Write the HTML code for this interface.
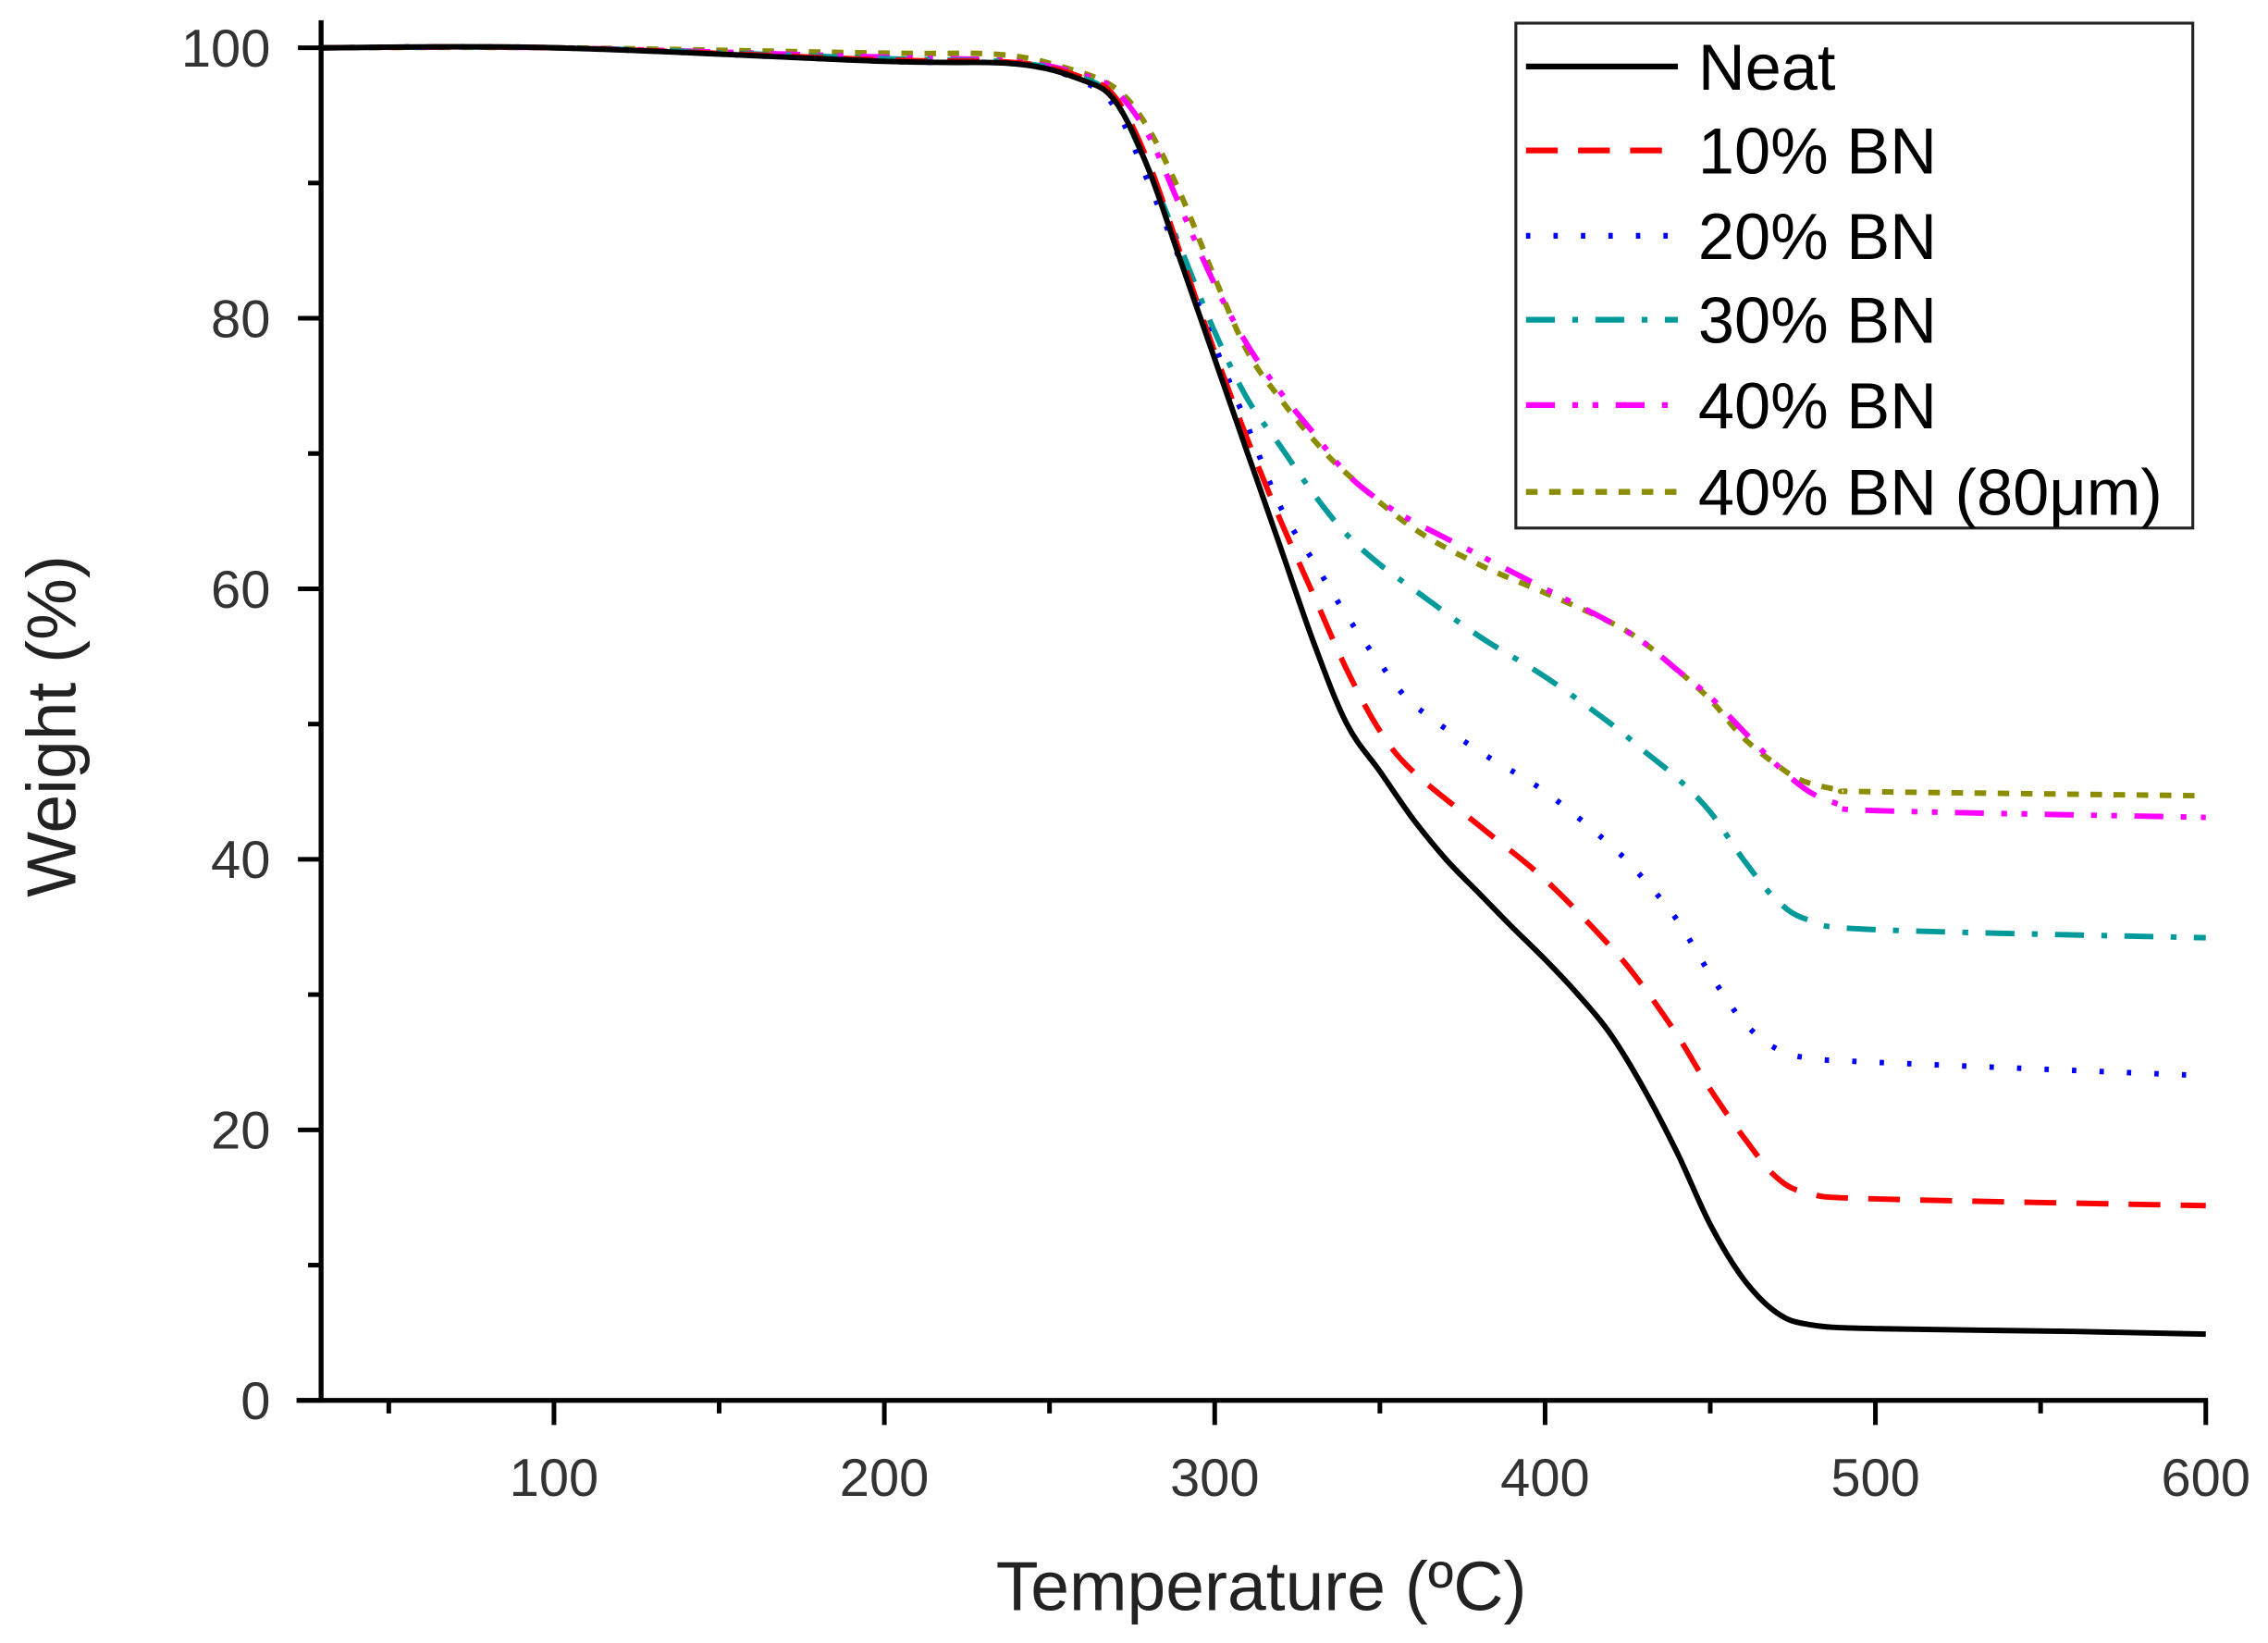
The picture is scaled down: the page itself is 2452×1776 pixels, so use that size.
<!DOCTYPE html>
<html><head><meta charset="utf-8"><style>
html,body{margin:0;padding:0;background:#fff;}
svg{display:block;}
text{font-family:"Liberation Sans",Arial,sans-serif;}
</style></head><body>
<svg id="s" width="2452" height="1776" viewBox="0 0 1568 1135.7" preserveAspectRatio="none" xmlns="http://www.w3.org/2000/svg">
<g id="curves" fill="none" stroke-width="3.8" stroke-linejoin="round"></g>
<g stroke="#000" stroke-width="3.4" fill="none">
<line x1="222" y1="14" x2="222" y2="969.5"/>
<line x1="205" y1="968" x2="1526.5" y2="968"/>
</g>
<g id="ticks" stroke="#000" stroke-width="3.2"></g>
<g id="labels" fill="#333" font-size="37"></g>
<text x="0" y="0" font-size="48" fill="#222" text-anchor="middle" transform="translate(52,502) rotate(-90)">Weight (%)</text>
<text x="872" y="1113" font-size="48" fill="#222" text-anchor="middle">Temperature (ºC)</text>
<rect x="1048" y="16" width="468" height="349" fill="#fff" stroke="#222" stroke-width="2"/>
<g id="legend"></g>
</svg>
<script>
var NS="http://www.w3.org/2000/svg";
function X(t){return 383+(t-100)*2.284;}
function Y(w){return 968-w*9.35;}
function el(p,n,a,txt){var e=document.createElementNS(NS,n);for(var k in a)e.setAttribute(k,a[k]);if(txt!==undefined)e.textContent=txt;document.getElementById(p).appendChild(e);return e;}
for(var w=0;w<=100;w+=10){var maj=w%20==0;el("ticks","line",{x1:222,x2:maj?206:213,y1:Y(w),y2:Y(w)});if(maj)el("labels","text",{x:187,y:Y(w)+13,"text-anchor":"end"},String(w));}
for(var t=50;t<=600;t+=50){var maj=t%100==0;el("ticks","line",{x1:X(t),x2:X(t),y1:968,y2:maj?985:977});if(maj)el("labels","text",{x:X(t),y:1034,"text-anchor":"middle"},String(t));}
var S=[
{c:"#000",d:"none",p:[[30,100],[100,100],[200,99],[240,98.8],[260,97.6],[270,96],[280,91],[290,84],[300,77],[310,70],[320,63],[330,56],[340,50],[350,46.5],[360,43],[370,40],[380,37.5],[390,35],[400,32.6],[410,30],[420,27],[430,23],[440,18.3],[450,13],[460,9],[470,6.5],[480,5.6],[500,5.3],[560,5.1],[600,4.9]]},
{c:"#f00",d:"22 14",p:[[30,100],[100,100],[200,99.1],[240,98.9],[260,97.8],[270,96.3],[280,91.5],[290,84.5],[300,77.5],[310,71],[320,65],[330,59.5],[340,54],[350,49.5],[360,46.5],[380,42.5],[400,38.5],[420,33.5],[430,30.5],[440,27],[450,23],[460,19.5],[470,16.5],[480,15.3],[500,14.9],[600,14.4]]},
{c:"#00f",d:"3 16",p:[[30,100],[100,100],[200,99],[240,98.8],[260,97.5],[270,95.5],[280,90],[290,84],[300,78],[310,72],[320,66],[330,62],[340,58],[350,54.5],[360,51.5],[380,48],[400,45],[420,41],[430,38.5],[440,35.5],[450,31.5],[460,28],[470,26],[480,25.3],[500,25],[600,24]]},
{c:"#009a9a",d:"20 12 4 12",p:[[30,100],[100,100],[200,99.2],[240,98.9],[260,97.8],[270,96],[280,91],[290,85],[300,79],[310,74],[320,70.5],[330,67],[340,64],[350,61.8],[360,60],[380,56.5],[400,53.5],[420,50],[430,48],[440,46],[450,43.5],[460,40],[470,37],[480,35.5],[500,34.8],[600,34.2]]},
{c:"#f0f",d:"20 12 4 10 4 12",p:[[30,100],[100,100],[200,99.3],[240,99],[260,98],[270,96.8],[280,93.5],[290,88],[300,82.5],[310,78],[320,74.5],[330,71.5],[340,68.5],[350,66.5],[360,65],[380,62.5],[400,60],[420,57.5],[430,56],[440,54],[450,52],[460,49.5],[470,47],[480,45],[490,44],[500,43.6],[600,43.1]]},
{c:"#8c8c00",d:"8 8",p:[[30,100],[100,100],[200,99.6],[235,99.5],[255,98.5],[270,97],[280,94],[290,89],[300,83],[310,77.5],[320,74],[330,71],[340,68.5],[360,64.5],[380,61.8],[400,59.7],[420,57.5],[430,56],[440,54],[450,51.8],[460,49],[470,47],[478,45.8],[490,45.1],[500,45],[600,44.7]]}
];
function path(p){var q=p.map(function(a){return [X(a[0]),Y(a[1])];});var d="M"+q[0][0]+","+q[0][1];
for(var i=0;i<q.length-1;i++){var p0=q[i-1]||q[i],p1=q[i],p2=q[i+1],p3=q[i+2]||q[i+1];
var c1=[p1[0]+(p2[0]-p0[0])/6,p1[1]+(p2[1]-p0[1])/6],c2=[p2[0]-(p3[0]-p1[0])/6,p2[1]-(p3[1]-p1[1])/6];
d+=" C"+c1[0].toFixed(1)+","+c1[1].toFixed(1)+" "+c2[0].toFixed(1)+","+c2[1].toFixed(1)+" "+p2[0].toFixed(1)+","+p2[1].toFixed(1);}return d;}
for(var i=S.length-1;i>=0;i--){var s=S[i];el("curves","path",{d:path(s.p),stroke:s.c,"stroke-dasharray":s.d});}
var names=["Neat","10% BN","20% BN","30% BN","40% BN","40% BN (80\u03bcm)"];
var ys=[46,104,163,221,280,340];
for(var i=0;i<6;i++){el("legend","line",{x1:1055,x2:1160,y1:ys[i],y2:ys[i],stroke:S[i].c,"stroke-width":4,"stroke-dasharray":S[i].d});
el("legend","text",{x:1174,y:ys[i]+16,"font-size":45,fill:"#000"},names[i]);}
</script>
</body></html>
